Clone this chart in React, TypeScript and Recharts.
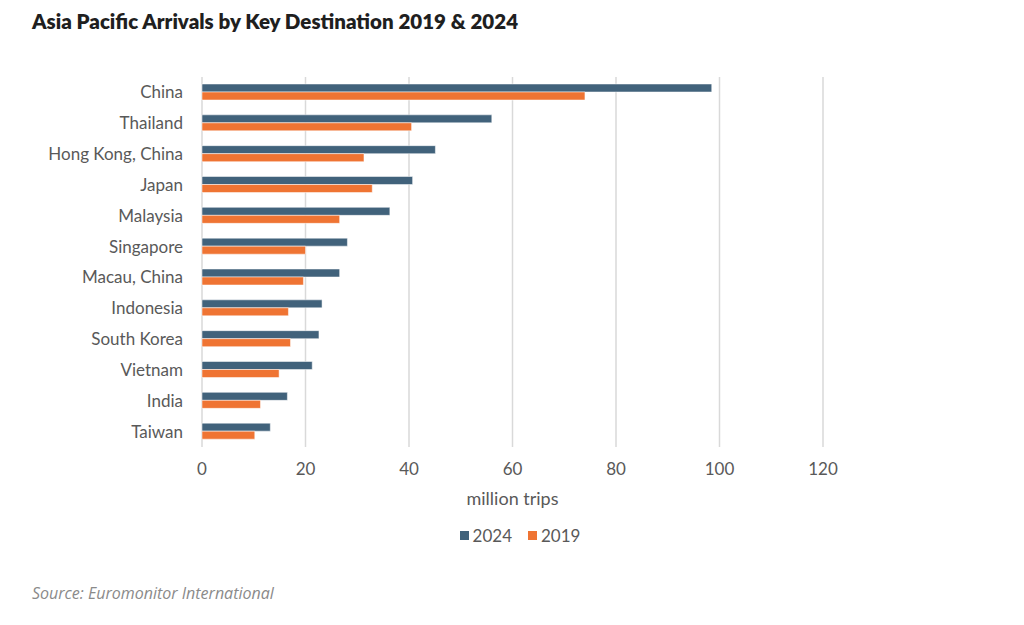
import { BarChart, Bar, XAxis, YAxis, CartesianGrid, Label } from 'recharts';

const destinations = [
  'China',
  'Thailand',
  'Hong Kong, China',
  'Japan',
  'Malaysia',
  'Singapore',
  'Macau, China',
  'Indonesia',
  'South Korea',
  'Vietnam',
  'India',
  'Taiwan',
];
const arrivals2024 = [98.5, 56.0, 45.1, 40.7, 36.3, 28.1, 26.6, 23.2, 22.6, 21.3, 16.5, 13.2];
const arrivals2019 = [74.0, 40.5, 31.3, 32.9, 26.6, 20.0, 19.6, 16.7, 17.1, 14.9, 11.3, 10.2];
const xTicks = [0, 20, 40, 60, 80, 100, 120];

const series = [
  { key: 'y2024', name: '2024', color: '#41627b' },
  { key: 'y2019', name: '2019', color: '#ef7433' },
];

const data = destinations.map((name, i) => ({
  name,
  y2024: arrivals2024[i],
  y2019: arrivals2019[i],
}));

const font = 'Lato, "Open Sans", sans-serif';

const App = () => {
  return (
    <div style={{ position: 'absolute', top: 0, left: 0, width: 1024, height: 625, background: '#fff', fontFamily: font }}>
      <div
        style={{
          position: 'absolute',
          left: 32,
          top: 9,
          fontSize: 20.5,
          fontWeight: 800,
          color: '#1f1f1f',
        }}
      >
        Asia Pacific Arrivals by Key Destination 2019 &amp; 2024
      </div>
      <BarChart
        width={1024}
        height={625}
        data={data}
        layout="vertical"
        margin={{ top: 77, right: 201, left: 0, bottom: 108 }}
        barSize={8}
        barGap={0}
      >
        <CartesianGrid horizontal={false} stroke="#d9d9d9" strokeWidth={1.5} />
        <XAxis
          type="number"
          domain={[0, 120]}
          ticks={xTicks}
          axisLine={false}
          tickLine={false}
          tickSize={0}
          tickMargin={16}
          height={70}
          tick={{ fill: '#595959', fontSize: 17, fontFamily: font }}
        >
          <Label
            value="million trips"
            position="insideBottom"
            offset={12}
            style={{ fill: '#595959', fontSize: 18, fontFamily: font }}
          />
        </XAxis>
        <YAxis
          type="category"
          dataKey="name"
          width={202}
          axisLine={false}
          tickLine={false}
          tickSize={0}
          tickMargin={19}
          interval={0}
          tick={{ fill: '#595959', fontSize: 17, fontFamily: font }}
        />
        {series.map((s) => (
          <Bar
            key={s.key}
            dataKey={s.key}
            name={s.name}
            fill={s.color}
            stroke="#ffffff"
            strokeWidth={0.5}
            isAnimationActive={false}
          />
        ))}
      </BarChart>
      <div
        style={{
          position: 'absolute',
          left: 0,
          width: 1024,
          top: 525,
          display: 'flex',
          justifyContent: 'center',
          gap: 16,
          marginLeft: 8,
          fontSize: 17,
          color: '#595959',
        }}
      >
        {series.map((s) => (
          <div key={s.key} style={{ display: 'flex', alignItems: 'center', gap: 4 }}>
            <span style={{ display: 'inline-block', width: 9, height: 9, background: s.color }} />
            <span>{s.name}</span>
          </div>
        ))}
      </div>
      <div
        style={{
          position: 'absolute',
          left: 32,
          top: 582,
          fontSize: 16,
          fontStyle: 'italic',
          color: '#8a8a8a',
          fontFamily: '"Open Sans", sans-serif',
        }}
      >
        Source: Euromonitor International
      </div>
    </div>
  );
};

export default App;
